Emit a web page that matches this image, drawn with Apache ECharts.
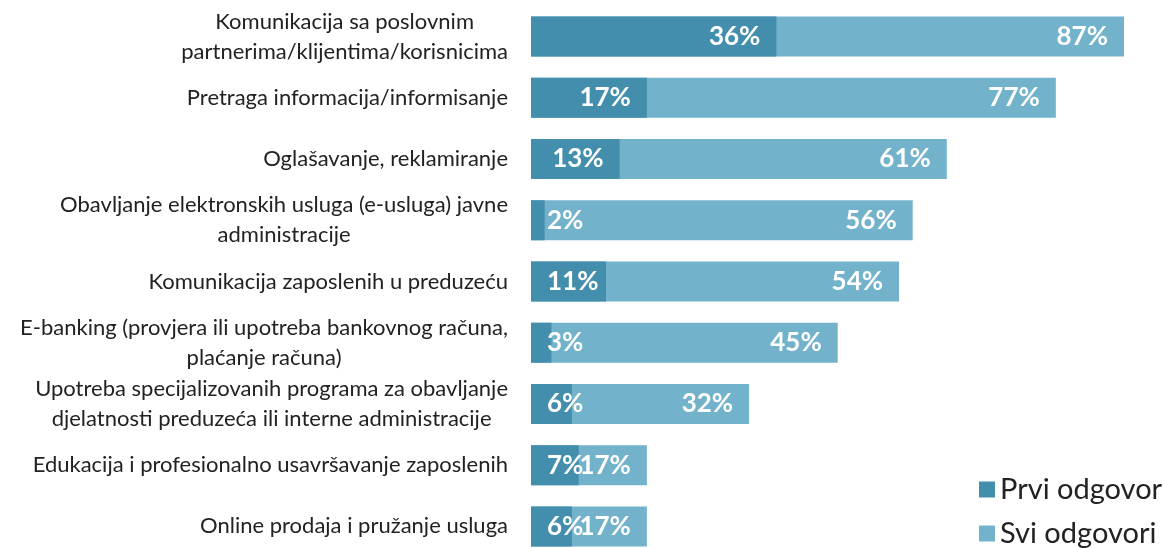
<!DOCTYPE html>
<html><head><meta charset="utf-8">
<script src="https://cdn.jsdelivr.net/npm/echarts@6/dist/echarts.min.js"></script>
<style>html,body{margin:0;padding:0;background:#fff}#c{width:1164px;height:548px}</style>
</head><body><div id="c"></div>
<script>
const categories = [
  "Komunikacija sa poslovnim\npartnerima/klijentima/korisnicima",
  "Pretraga informacija/informisanje",
  "Oglašavanje, reklamiranje",
  "Obavljanje elektronskih usluga (e-usluga) javne\nadministracije",
  "Komunikacija zaposlenih u preduzeću",
  "E-banking (provjera ili upotreba bankovnog računa,\nplaćanje računa)",
  "Upotreba specijalizovanih programa za obavljanje\ndjelatnosti preduzeća ili interne administracije",
  "Edukacija i profesionalno usavršavanje zaposlenih",
  "Online prodaja i pružanje usluga"
];
const prviOdgovor = [36, 17, 13, 2, 11, 3, 6, 7, 6];
const sviOdgovori = [87, 77, 61, 56, 54, 45, 32, 17, 17];
const seriesNames = ["Prvi odgovor", "Svi odgovori"];

const labelFont = {color:'#fff', fontFamily:'Lato', fontWeight:'bold', fontSize:26};
const chart = echarts.init(document.getElementById('c'));
chart.setOption({
  animation:false,
  grid:{left:531, right:40, top:6, height:551, containLabel:false, outerBoundsMode:'none'},
  xAxis:{type:'value', min:0, max:87, show:false},
  yAxis:{type:'category', data:categories, inverse:true,
    axisLine:{show:false}, axisTick:{show:false}, splitLine:{show:false},
    axisLabel:{align:'right', margin:23, color:'#222',
      formatter:v=>v.split('\n').map(l=>'{c|'+l+'}').join('\n'),
      rich:{c:{align:'center', fontFamily:'Lato', fontSize:22, lineHeight:30, color:'#222'}}}
  },
  legend:{data:seriesNames, orient:'vertical', left:974, top:470, height:140, itemWidth:16, itemHeight:16,
    itemGap:15, icon:'rect', textStyle:{fontFamily:'Lato', fontSize:29, color:'#222', padding:[0,0,0,0]}},
  series:[
    {name:seriesNames[1], type:'bar', data:sviOdgovori, barWidth:40, barGap:'-100%',
      itemStyle:{color:'#72b2cb'}, z:2,
      label:Object.assign({show:true, position:'insideRight', distance:16, formatter:'{c}%'}, labelFont)},
    {name:seriesNames[0], type:'bar', barWidth:40, barGap:'-100%', itemStyle:{color:'#438eac'}, z:3,
      data:prviOdgovor.map(v=>({value:v, label:{position: v>=12?'insideRight':'insideLeft'}})),
      label:Object.assign({show:true, distance:16, formatter:'{c}%'}, labelFont)}
  ]
});
</script></body></html>
